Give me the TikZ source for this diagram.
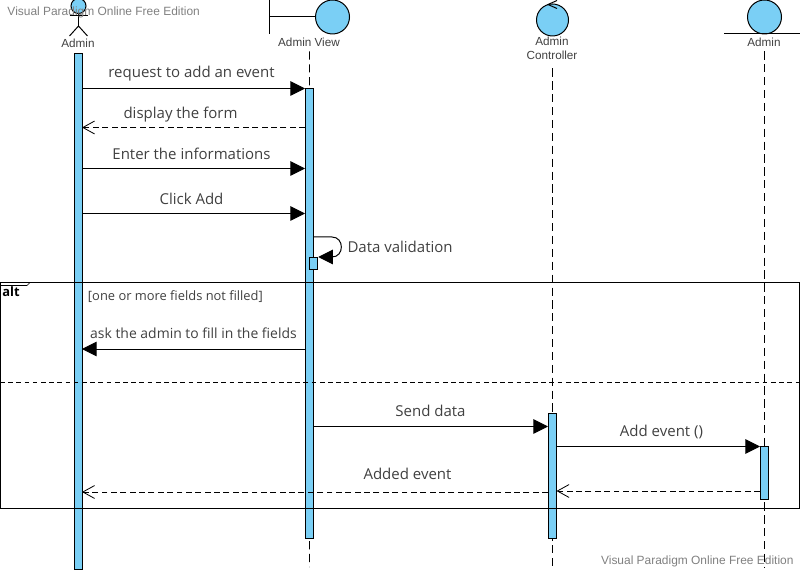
\documentclass[tikz,border=0pt]{standalone}
\usepackage{fontspec}
\setmainfont{Open Sans}
\newfontfamily\uifont{Liberation Sans}
\usetikzlibrary{arrows.meta}
\definecolor{lightblue}{RGB}{122,207,245}
\definecolor{labelgray}{RGB}{64,64,64}
\definecolor{markgray}{RGB}{128,128,128}
\def\s{0.03}
\def\punkt#1#2{({(#1)*\s},{-(#2)*\s})}
\tikzset{
	bar/.style={draw,fill=lightblue,inner sep=0pt,minimum width=8.5*\s cm},
	lifeline/.style={dashed,dash pattern=on 7pt off 4pt,line width=0.8pt},
	msg/.style={-{Triangle[length=12.5pt,width=12.5pt]}},
	reply/.style={dashed,dash pattern=on 5pt off 3pt,line width=0.8pt,-{Straight Barb[length=10pt,width=11pt,line width=0.7pt]}},
	msglabel/.style={font=\fontsize{12.8}{15}\selectfont,text=labelgray,inner sep=0pt},
	namelabel/.style={font=\uifont\fontsize{10}{12}\selectfont,text=labelgray,inner sep=0pt,align=center},
	marklabel/.style={font=\uifont\fontsize{10.2}{12}\selectfont,text=markgray,inner sep=0pt},
	ball/.style={circle,draw,fill=lightblue,inner sep=0pt}
}
\begin{document}
\begin{tikzpicture}[line width=0.85pt]
\useasboundingbox \punkt{0}{0} rectangle \punkt{800}{570};
% lifelines
\node[namelabel] (viewname) at \punkt{309}{42} {Admin View};
\node[namelabel] (ctrlname) at \punkt{552}{48.5} {Admin\\Controller};
\node[namelabel] (entityname) at \punkt{764}{42} {Admin};
\node[namelabel] (actorname) at \punkt{78}{43} {Admin};
\path \punkt{309.5}{567} coordinate (viewend);
\path \punkt{552.5}{567} coordinate (ctrlend);
\path \punkt{764.5}{567} coordinate (entityend);
\draw[lifeline] (viewname) ++(0.5*\s,-8pt) -- (viewend);
\draw[lifeline] (ctrlname) ++(0.5*\s,-17pt) -- (ctrlend);
\draw[lifeline] (entityname) ++(0.5*\s,-8pt) -- (entityend);
% activation bars
\node[bar,minimum height=516*\s cm] (actorbar) at \punkt{78.5}{311.5} {};
\node[bar,minimum height=450*\s cm] (viewbar) at \punkt{309.5}{313.5} {};
\node[bar,minimum height=125*\s cm] (ctrlbar) at \punkt{552.5}{475.5} {};
\node[bar,minimum height=53*\s cm] (entitybar) at \punkt{764.5}{472.5} {};
\node[bar,minimum height=12*\s cm] (selfbar) at \punkt{313.5}{263.5} {};
% actor
\node[ball,minimum size=15*\s cm] (actorhead) at \punkt{78.5}{6} {};
\path \punkt{78.5}{26} coordinate (actorhip);
\draw (actorhead) -- (actorhip);
\draw \punkt{69.5}{16} -- \punkt{87.5}{16};
\draw \punkt{69.5}{36} -- (actorhip) -- \punkt{87.5}{36};
% boundary
\node[ball,minimum size=34*\s cm] (viewball) at \punkt{332.5}{17} {};
\path \punkt{269.5}{17} coordinate (viewleft);
\draw (viewball) -- (viewleft);
\draw \punkt{269.5}{0} -- \punkt{269.5}{34};
% control
\node[ball,minimum size=32*\s cm] (ctrlball) at \punkt{552.5}{20} {};
\draw \punkt{557}{0.5} -- \punkt{548}{4.5} -- \punkt{557}{8.5};
% entity
\node[ball,minimum size=34*\s cm] (entityball) at \punkt{764.5}{17} {};
\draw \punkt{724}{34} -- \punkt{800}{34};
% messages
\path \punkt{82}{88.5} coordinate (m1a);
\path \punkt{305}{88.5} coordinate (m1b);
\draw[msg] (m1a) -- (m1b);
\node[msglabel] (m1) at \punkt{191.5}{74} {request to add an event};
\path \punkt{305}{127.5} coordinate (m2a);
\path \punkt{82}{127.5} coordinate (m2b);
\draw[reply] (m2a) -- (m2b);
\node[msglabel] (m2) at \punkt{180.5}{115} {display the form};
\path \punkt{82}{168.5} coordinate (m3a);
\path \punkt{305}{168.5} coordinate (m3b);
\draw[msg] (m3a) -- (m3b);
\node[msglabel] (m3) at \punkt{191.5}{154} {Enter the informations};
\path \punkt{82}{213.5} coordinate (m4a);
\path \punkt{305}{213.5} coordinate (m4b);
\draw[msg] (m4a) -- (m4b);
\node[msglabel] (m4) at \punkt{191.5}{199} {Click Add};
\path \punkt{313.5}{237} coordinate (m5a);
\path \punkt{332}{237} coordinate (m5b);
\path \punkt{332}{257} coordinate (m5c);
\draw[msg] (m5a) -- (m5b) to[out=0,in=0,looseness=1.6] (m5c) -- (selfbar.east |- m5c);
\node[msglabel,anchor=west] (m5) at \punkt{347}{247} {Data validation};
\path \punkt{305}{349} coordinate (m6a);
\path \punkt{82}{349} coordinate (m6b);
\draw[msg] (m6a) -- (m6b);
\node[msglabel,font=\fontsize{11.9}{14}\selectfont] (m6) at \punkt{193.5}{333} {ask the admin to fill in the fields};
\path \punkt{313.5}{426.5} coordinate (m7a);
\path \punkt{548}{426.5} coordinate (m7b);
\draw[msg] (m7a) -- (m7b);
\node[msglabel] (m7) at \punkt{430.5}{411} {Send data};
\path \punkt{556.5}{446.5} coordinate (m8a);
\path \punkt{760}{446.5} coordinate (m8b);
\draw[msg] (m8a) -- (m8b);
\node[msglabel] (m8) at \punkt{661.5}{432} {Add event ()};
\path \punkt{548}{492} coordinate (m9a);
\path \punkt{82}{492} coordinate (m9b);
\draw[reply] (m9a) -- (m9b);
\node[msglabel] (m9) at \punkt{407.5}{474} {Added event};
\path \punkt{760}{491} coordinate (m10a);
\path \punkt{556.5}{491} coordinate (m10b);
\draw[reply] (m10a) -- (m10b);
% alt frame
\draw \punkt{0}{282.5} rectangle \punkt{799.5}{508.5};
\draw[line width=0.6pt] \punkt{0}{285.5} -- \punkt{27}{285.5} -- \punkt{30}{282.5};
\draw[dashed,dash pattern=on 4pt off 3pt,line width=0.7pt] \punkt{0}{382} -- \punkt{800}{382};
\node[font=\bfseries\fontsize{11}{13}\selectfont,inner sep=0pt] (altname) at \punkt{11}{292} {alt};
\node[font=\fontsize{11}{13}\selectfont,text=labelgray,inner sep=0pt,anchor=west] (guard) at \punkt{87.5}{297} {[one or more fields not filled]};
% watermark
\node[marklabel,anchor=west] (marktop) at \punkt{7}{12} {Visual Paradigm Online Free Edition};
\node[marklabel,anchor=east] (markbottom) at \punkt{794}{561} {Visual Paradigm Online Free Edition};
\end{tikzpicture}
\end{document}
